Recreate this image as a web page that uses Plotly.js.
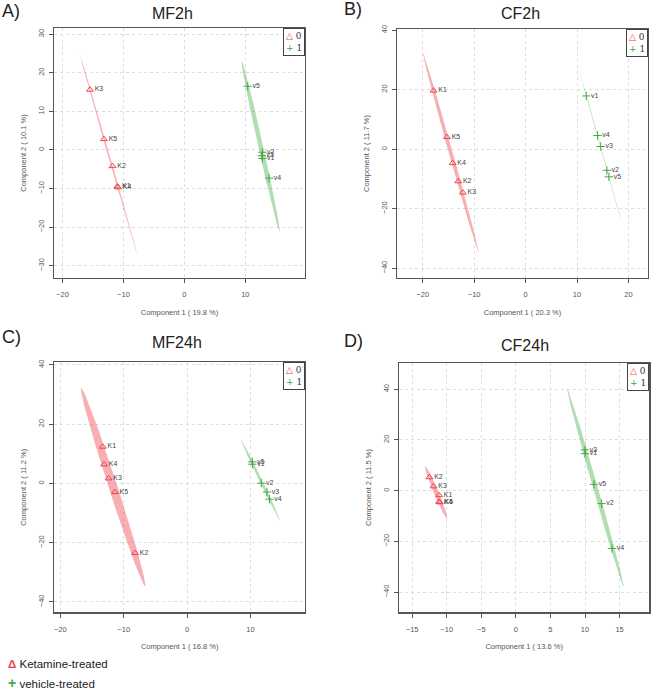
<!DOCTYPE html>
<html>
<head>
<meta charset="utf-8">
<script src="https://cdn.plot.ly/plotly-3.0.1.min.js"></script>
<style>
  html, body { margin: 0; padding: 0; background: #fff; }
  #chart { width: 653px; height: 691px; }
</style>
</head>
<body>
<div id="chart"></div>
<script>
// PLS-DA score plots, group 0 = ketamine (K), group 1 = vehicle (v)

// A) MF2h
const mf2hKLabels = ['K3', 'K5', 'K2', 'K1', 'K4'];
const mf2hKx = [-15.5, -13.2, -11.8, -11.0, -10.9];
const mf2hKy = [15.6, 2.8, -4.2, -9.5, -9.7];
const mf2hVLabels = ['v5', 'v2', 'v3', 'v1', 'v4'];
const mf2hVx = [10.4, 12.8, 12.7, 12.8, 13.9];
const mf2hVy = [16.5, -0.6, -1.5, -2.2, -7.3];

// B) CF2h
const cf2hKLabels = ['K1', 'K5', 'K4', 'K2', 'K3'];
const cf2hKx = [-17.9, -15.3, -14.2, -13.1, -12.2];
const cf2hKy = [19.7, 4.1, -4.7, -10.8, -14.6];
const cf2hVLabels = ['v1', 'v4', 'v3', 'v2', 'v5'];
const cf2hVx = [11.8, 14.0, 14.6, 15.8, 16.2];
const cf2hVy = [17.9, 4.6, 0.9, -7.1, -9.3];

// C) MF24h
const mf24hKLabels = ['K1', 'K4', 'K3', 'K5', 'K2'];
const mf24hKx = [-13.3, -13.1, -12.4, -11.4, -8.2];
const mf24hKy = [12.4, 6.4, 1.7, -2.9, -23.5];
const mf24hVLabels = ['v5', 'v1', 'v2', 'v3', 'v4'];
const mf24hVx = [10.3, 10.3, 11.7, 12.6, 13.0];
const mf24hVy = [7.3, 6.5, 0.1, -2.9, -5.3];

// D) CF24h
const cf24hKLabels = ['K2', 'K3', 'K1', 'K4', 'K5'];
const cf24hKx = [-12.5, -11.9, -11.1, -11.1, -11.0];
const cf24hKy = [5.3, 1.7, -1.8, -4.4, -4.6];
const cf24hVLabels = ['v3', 'v1', 'v5', 'v2', 'v4'];
const cf24hVx = [10.0, 10.0, 11.3, 12.4, 13.9];
const cf24hVy = [16.1, 14.6, 2.5, -5.1, -22.8];

const panelTitles = ['MF2h', 'CF2h', 'MF24h', 'CF24h'];
const panelLetters = ['A)', 'B)', 'C)', 'D)'];
const xTitles = ['Component 1 ( 19.8 %)', 'Component 1 ( 20.3 %)', 'Component 1 ( 16.8 %)', 'Component 1 ( 13.6 %)'];
const yTitles = ['Component 2 ( 10.1 %)', 'Component 2 ( 11.7 %)', 'Component 2 ( 11.2 %)', 'Component 2 ( 11.5 %)'];
const groupNames = ['Ketamine-treated', 'vehicle-treated'];

const RED = '#e8474f';
const GREEN = '#43a843';
const W = 653, H = 691;

// 95% confidence ellipse from the group's covariance
function ellipse(xs, ys) {
  const n = xs.length;
  const mx = xs.reduce((a, b) => a + b, 0) / n;
  const my = ys.reduce((a, b) => a + b, 0) / n;
  let sxx = 0, syy = 0, sxy = 0;
  for (let i = 0; i < n; i++) {
    sxx += (xs[i] - mx) ** 2;
    syy += (ys[i] - my) ** 2;
    sxy += (xs[i] - mx) * (ys[i] - my);
  }
  sxx /= n - 1; syy /= n - 1; sxy /= n - 1;
  const tr = sxx + syy, det = sxx * syy - sxy * sxy;
  const d = Math.sqrt(Math.max(tr * tr / 4 - det, 0));
  const l1 = tr / 2 + d, l2 = Math.max(tr / 2 - d, 0);
  const ang = 0.5 * Math.atan2(2 * sxy, sxx - syy);
  const r = Math.sqrt(5.991);
  const ex = [], ey = [];
  for (let k = 0; k <= 120; k++) {
    const t = 2 * Math.PI * k / 120;
    const a = r * Math.sqrt(l1) * Math.cos(t), b = r * Math.sqrt(l2) * Math.sin(t);
    ex.push(mx + a * Math.cos(ang) - b * Math.sin(ang));
    ey.push(my + a * Math.sin(ang) + b * Math.cos(ang));
  }
  return [ex, ey];
}

const groups = [
  [mf2hKLabels, mf2hKx, mf2hKy, mf2hVLabels, mf2hVx, mf2hVy],
  [cf2hKLabels, cf2hKx, cf2hKy, cf2hVLabels, cf2hVx, cf2hVy],
  [mf24hKLabels, mf24hKx, mf24hKy, mf24hVLabels, mf24hVx, mf24hVy],
  [cf24hKLabels, cf24hKx, cf24hKy, cf24hVLabels, cf24hVx, cf24hVy]
];

// plot boxes in pixels [left, right, top, bottom]
const boxes = [
  [54, 305, 28, 278],
  [397, 648, 29.3, 277.7],
  [54.3, 305, 362.3, 612.3],
  [399, 649.3, 362.7, 612.3]
];
const xRanges = [[-21.4, 19.8], [-25.0, 23.8], [-20.95, 18.6], [-16.9, 19.3]];
const yRanges = [[-33.2, 31.6], [-43.2, 40.3], [-43.5, 40.9], [-48.0, 50.5]];
const xTicks = [[-20, -10, 0, 10], [-20, -10, 0, 10, 20], [-20, -10, 0, 10], [-15, -10, -5, 0, 5, 10, 15]];
const yTicks = [[-30, -20, -10, 0, 10, 20, 30], [-40, -20, 0, 20, 40], [-40, -20, 0, 20, 40], [-40, -20, 0, 20, 40]];
const titlePos = [[172, 13], [520, 13], [177, 342], [525, 345]];
const letterPos = [[0, 11], [342, 9], [0, 337], [342, 341]];

const traces = [];
const layout = {
  width: W, height: H,
  margin: { l: 0, r: 0, t: 0, b: 0 },
  paper_bgcolor: '#fff', plot_bgcolor: '#fff',
  showlegend: false,
  font: { family: 'Liberation Sans, Arial, sans-serif', color: '#444' },
  annotations: []
};

groups.forEach((g, i) => {
  const xa = i === 0 ? 'x' : 'x' + (i + 1);
  const ya = i === 0 ? 'y' : 'y' + (i + 1);
  const [kl, kx, ky, vl, vx, vy] = g;
  const ek = ellipse(kx, ky), ev = ellipse(vx, vy);
  traces.push({ x: ek[0], y: ek[1], xaxis: xa, yaxis: ya, mode: 'lines', fill: 'toself',
    fillcolor: 'rgba(240,95,105,0.5)', line: { width: 0 }, hoverinfo: 'skip' });
  traces.push({ x: ev[0], y: ev[1], xaxis: xa, yaxis: ya, mode: 'lines', fill: 'toself',
    fillcolor: 'rgba(100,190,100,0.5)', line: { width: 0 }, hoverinfo: 'skip' });
  traces.push({ x: kx, y: ky, text: kl, xaxis: xa, yaxis: ya, mode: 'markers+text',
    textposition: 'middle right', textfont: { size: 7, color: '#444' },
    marker: { symbol: 'triangle-up-open', size: 6, color: RED, line: { width: 1, color: RED } } });
  traces.push({ x: vx, y: vy, text: vl, xaxis: xa, yaxis: ya, mode: 'markers+text',
    textposition: 'middle right', textfont: { size: 7, color: '#444' },
    marker: { symbol: 'cross-thin-open', size: 6, color: GREEN, line: { width: 1, color: GREEN } } });

  const b = boxes[i];
  const axisCommon = {
    showline: true, mirror: true, linecolor: '#555', linewidth: 1.2,
    ticks: 'outside', ticklen: 4, tickwidth: 1, tickcolor: '#555',
    showgrid: true, gridcolor: '#ddd', griddash: 'dot', gridwidth: 1,
    zeroline: false, tickfont: { size: 7.5, color: '#555' }
  };
  layout['xaxis' + (i === 0 ? '' : i + 1)] = Object.assign({}, axisCommon, {
    domain: [b[0] / W, b[1] / W], anchor: ya, range: xRanges[i],
    tickmode: 'array', tickvals: xTicks[i], ticklabelstandoff: 5,
    title: { text: xTitles[i], font: { size: 7.5, color: '#555' }, standoff: 11 }
  });
  layout['yaxis' + (i === 0 ? '' : i + 1)] = Object.assign({}, axisCommon, {
    domain: [1 - b[3] / H, 1 - b[2] / H], anchor: xa, range: yRanges[i],
    tickmode: 'array', tickvals: yTicks[i], tickangle: -90, ticklabelstandoff: 2,
    title: { text: yTitles[i], font: { size: 7.5, color: '#555' }, standoff: 9 }
  });

  // small in-plot legend box (R style)
  layout.annotations.push({
    xref: 'paper', yref: 'paper', x: b[1] / W, y: 1 - b[2] / H,
    xanchor: 'right', yanchor: 'top', align: 'left', showarrow: false,
    text: '<span style="color:' + RED + '">△</span> 0<br><span style="color:' + GREEN + '">+</span> 1',
    font: { size: 9, color: '#333', family: 'DejaVu Serif, serif' },
    bordercolor: '#444', borderwidth: 1, borderpad: 2, bgcolor: '#fff'
  });
  layout.annotations.push({
    xref: 'paper', yref: 'paper', x: titlePos[i][0] / W, y: 1 - titlePos[i][1] / H,
    xanchor: 'center', yanchor: 'middle', showarrow: false, text: panelTitles[i],
    font: { size: 16, color: '#222', family: 'Liberation Sans, Arial, sans-serif' }
  });
  layout.annotations.push({
    xref: 'paper', yref: 'paper', x: letterPos[i][0] / W, y: 1 - letterPos[i][1] / H,
    xanchor: 'left', yanchor: 'middle', showarrow: false, text: panelLetters[i],
    font: { size: 18, color: '#222', family: 'Liberation Sans, Arial, sans-serif' }
  });
});

// group key under the panels
layout.annotations.push({
  xref: 'paper', yref: 'paper', x: 6 / W, y: 1 - 664 / H, xanchor: 'left', yanchor: 'middle',
  showarrow: false, text: '<b><span style="color:' + RED + '">Δ</span></b> ' + groupNames[0],
  font: { size: 11.5, color: '#222', family: 'Liberation Sans, Arial, sans-serif' }
});
layout.annotations.push({
  xref: 'paper', yref: 'paper', x: 6 / W, y: 1 - 683 / H, xanchor: 'left', yanchor: 'middle',
  showarrow: false, text: '<b><span style="color:' + GREEN + '; font-size:14px">+</span></b> ' + groupNames[1],
  font: { size: 11.5, color: '#222', family: 'Liberation Sans, Arial, sans-serif' }
});

Plotly.newPlot('chart', traces, layout, { displayModeBar: false, staticPlot: true });
</script>
</body>
</html>
